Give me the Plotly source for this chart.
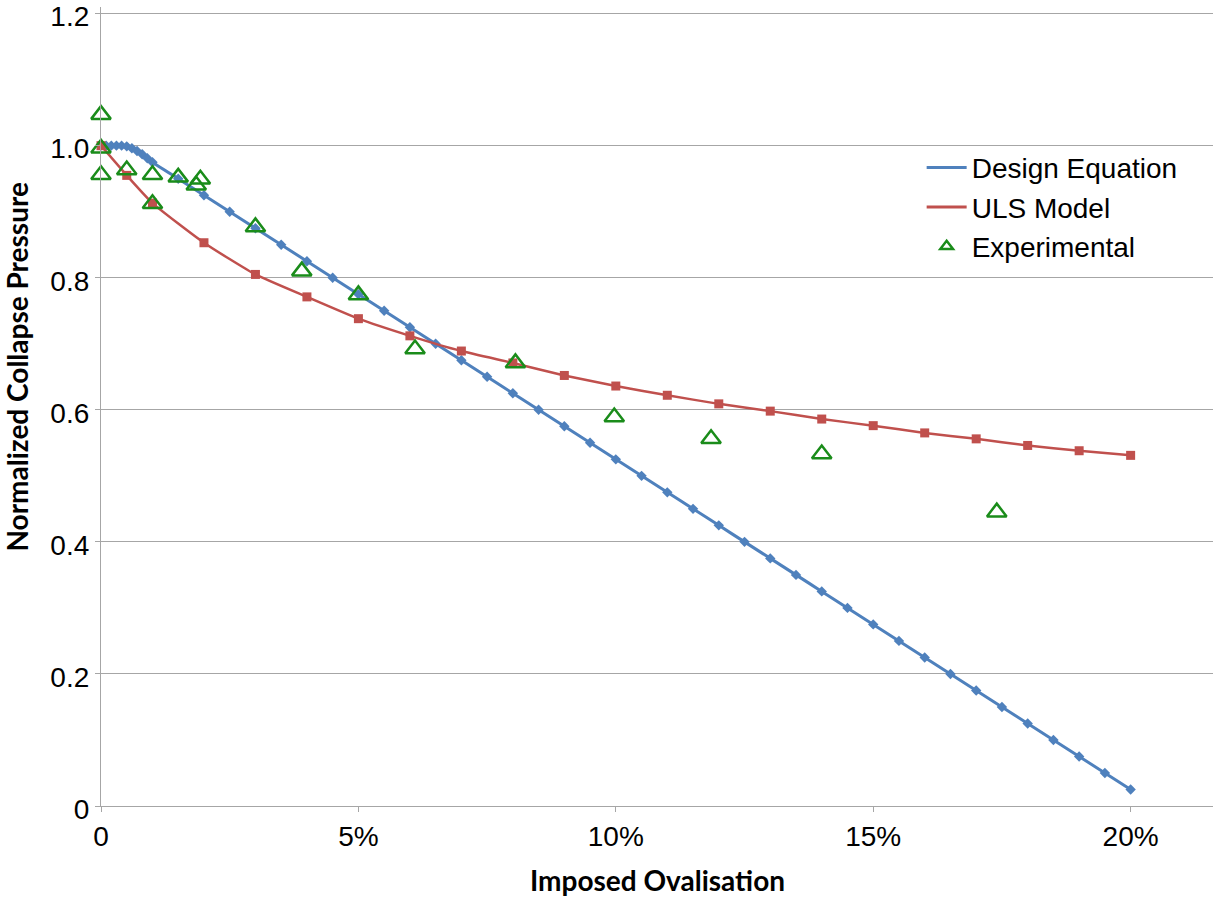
import plotly.graph_objects as go

# ---- data (x in percent of imposed ovalisation) ----
design_x = [0, 0.1, 0.2, 0.3, 0.4, 0.5, 0.6, 0.7, 0.8, 0.9, 1.0,
            1.5, 2.0, 2.5, 3.0, 3.5, 4.0, 4.5, 5.0, 5.5, 6.0, 6.5, 7.0, 7.5, 8.0,
            8.5, 9.0, 9.5, 10.0, 10.5, 11.0, 11.5, 12.0, 12.5, 13.0, 13.5, 14.0,
            14.5, 15.0, 15.5, 16.0, 16.5, 17.0, 17.5, 18.0, 18.5, 19.0, 19.5, 20.0]
design_y = [1.0, 1.0, 1.0, 1.0, 1.0, 0.999, 0.996, 0.992, 0.987, 0.981, 0.975,
            0.95, 0.925, 0.90, 0.875, 0.85, 0.825, 0.80, 0.775, 0.75, 0.725, 0.70, 0.675, 0.65, 0.625,
            0.60, 0.575, 0.55, 0.525, 0.50, 0.475, 0.45, 0.425, 0.40, 0.375, 0.35, 0.325,
            0.30, 0.275, 0.25, 0.225, 0.20, 0.175, 0.15, 0.125, 0.10, 0.075, 0.05, 0.025]

uls_x = [0, 0.5, 1, 2, 3, 4, 5, 6, 7, 8, 9, 10, 11, 12, 13, 14, 15, 16, 17, 18, 19, 20]
uls_y = [1.0, 0.955, 0.913, 0.853, 0.805, 0.771, 0.738, 0.712, 0.689, 0.671, 0.652,
         0.636, 0.622, 0.609, 0.598, 0.586, 0.576, 0.565, 0.556, 0.546, 0.538, 0.531]

exp_x = [0, 0, 0, 0.5, 1.0, 1.0, 1.5, 1.85, 1.93, 3.0, 3.9, 5.0, 6.1, 8.05, 9.97, 11.85, 14.0, 17.4]
exp_y = [1.047, 0.996, 0.956, 0.963, 0.956, 0.912, 0.952, 0.940, 0.949, 0.877, 0.810,
         0.774, 0.692, 0.671, 0.589, 0.556, 0.533, 0.445]

x_tickvals = [0, 5, 10, 15, 20]
x_ticktext = ["0", "5%", "10%", "15%", "20%"]
y_tickvals = [0, 0.2, 0.4, 0.6, 0.8, 1.0, 1.2]
y_ticktext = ["0", "0.2", "0.4", "0.6", "0.8", "1.0", "1.2"]

BLUE = "#4F81BD"
RED = "#C0504D"
GREEN = "#1a8c1a"
GRID = "#a6a6a6"
TICKFONT = dict(family="Liberation Sans, Arial, sans-serif", size=28, color="#000000")
TITLEFONT = dict(family="Lato, Open Sans, sans-serif", size=28, color="#000000")

fig = go.Figure()

# Design equation
fig.add_trace(go.Scatter(x=design_x, y=design_y, mode="lines+markers", name="Design Equation",
                         line=dict(color=BLUE, width=3, shape="spline", smoothing=0.5),
                         marker=dict(symbol="diamond", size=8, color=BLUE),
                         showlegend=False, cliponaxis=False))
fig.add_trace(go.Scatter(x=[None], y=[None], mode="lines", name="Design Equation",
                         line=dict(color=BLUE, width=3)))

# ULS model
fig.add_trace(go.Scatter(x=uls_x, y=uls_y, mode="lines+markers", name="ULS Model",
                         line=dict(color=RED, width=2.5, shape="spline", smoothing=0.5),
                         marker=dict(symbol="square", size=9, color=RED),
                         showlegend=False, cliponaxis=False))
fig.add_trace(go.Scatter(x=[None], y=[None], mode="lines", name="ULS Model",
                         line=dict(color=RED, width=3)))

# Experimental
fig.add_trace(go.Scatter(x=exp_x, y=exp_y, mode="markers", name="Experimental",
                         marker=dict(symbol="triangle-up-open", size=17, color=GREEN,
                                     line=dict(width=2.5, color=GREEN)),
                         showlegend=False, cliponaxis=False))
fig.add_trace(go.Scatter(x=[None], y=[None], mode="markers", name="Experimental",
                         marker=dict(symbol="triangle-up-open", size=11, color=GREEN,
                                     line=dict(width=2.5, color=GREEN))))

fig.update_layout(
    width=1213, height=899,
    margin=dict(l=101, r=0, t=7, b=93, autoexpand=False),
    paper_bgcolor="white", plot_bgcolor="white",
    showlegend=True,
    legend=dict(x=0.738, y=0.830, xanchor="left", yanchor="top",
                font=dict(family="Liberation Sans, Arial, sans-serif", size=28, color="#000000"),
                bgcolor="rgba(255,255,255,0)", tracegroupgap=0, itemwidth=40),
    xaxis=dict(range=[0, 21.6], tickvals=x_tickvals, ticktext=x_ticktext,
               showgrid=False, zeroline=False, showline=True, linecolor=GRID, linewidth=1.3,
               ticks="outside", ticklen=5, tickcolor=GRID, tickwidth=1.3,
               tickfont=TICKFONT, automargin=False, ticklabeloverflow="allow"),
    yaxis=dict(range=[0, 1.21], tickvals=y_tickvals, ticktext=y_ticktext,
               showgrid=True, gridcolor=GRID, gridwidth=1.3, zeroline=False,
               showline=True, linecolor=GRID, linewidth=1.3,
               ticks="outside", ticklen=5, tickcolor=GRID, tickwidth=1.3,
               tickfont=TICKFONT, automargin=False, ticklabeloverflow="allow",
               ticklabelshift=3),
    annotations=[
        dict(text="<b>Imposed Ovalisation</b>", xref="paper", yref="paper",
             x=0.5, y=-0.093, xanchor="center", yanchor="middle", showarrow=False,
             font=TITLEFONT),
        dict(text="<b>Normalized Collapse Pressure</b>", xref="paper", yref="paper",
             x=-0.0755, y=0.55, xanchor="center", yanchor="middle", showarrow=False,
             textangle=-90, font=TITLEFONT),
    ],
)

fig.write_html("out.html", config={"displayModeBar": False},
               post_script="document.body.style.margin='0px';")
